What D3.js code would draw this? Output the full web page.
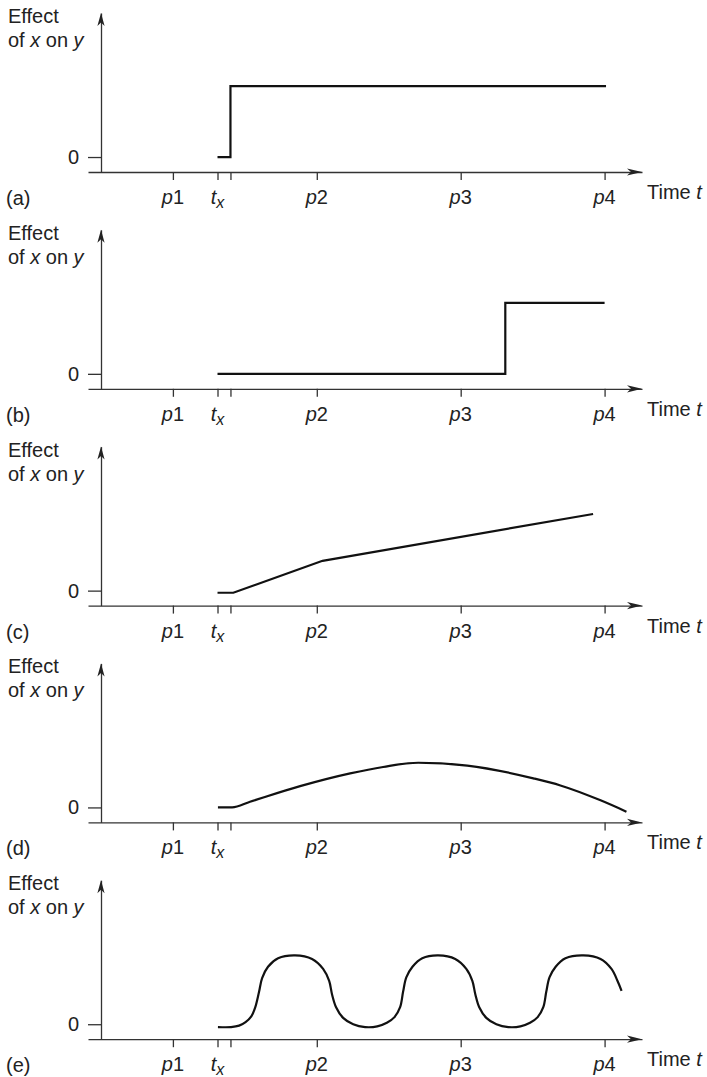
<!DOCTYPE html>
<html>
<head>
<meta charset="utf-8">
<script src="https://cdn.jsdelivr.net/npm/d3@7"></script>
<style>
  body { margin: 0; background: #fff; }
  text { font-family: "Liberation Sans", Arial, sans-serif; fill: #222; }
</style>
</head>
<body>
<div id="chart"></div>
<script>
// Data
const panelLabels = ['(a)', '(b)', '(c)', '(d)', '(e)']
const xTickValues = [1, 1.31, 1.40, 2, 3, 4]
const xTickLabels = [['p', '1'], ['t', 'x'], null, ['p', '2'], ['p', '3'], ['p', '4']]
const yTickValues = [0]
const yTickLabels = ['0']

// [time, effect] for each panel
const seriesA = [[1.31, 0], [1.40, 0], [1.40, 1], [4.01, 1]]
const seriesB = [[1.31, 0], [3.31, 0], [3.31, 1], [4.00, 1]]
const seriesC = [[1.31, -0.03], [1.42, -0.03], [2.04, 0.42], [3.92, 1.08]]
const seriesD = [
    [1.313, 0], [1.411, 0], [1.536, 0.08], [1.884, 0.30], [2.232, 0.48], [2.461, 0.57],
    [2.705, 0.63], [3.046, 0.59], [3.505, 0.41], [3.693, 0.31], [3.972, 0.10], [4.152, -0.06]
]
const seriesE = [
    [1.313, -0.04], [1.404, -0.04], [1.460, -0.02], [1.505, 0.03], [1.545, 0.11], [1.571, 0.23],
    [1.598, 0.45], [1.620, 0.65], [1.661, 0.81], [1.731, 0.93], [1.849, 0.97], [1.967, 0.92],
    [2.044, 0.78], [2.086, 0.61], [2.106, 0.42], [2.134, 0.24], [2.183, 0.09], [2.253, 0.00],
    [2.336, -0.04], [2.420, -0.03], [2.487, 0.02], [2.540, 0.10], [2.579, 0.24], [2.600, 0.46],
    [2.622, 0.66], [2.665, 0.81], [2.733, 0.93], [2.844, 0.97], [2.962, 0.92], [3.039, 0.78],
    [3.081, 0.61], [3.102, 0.42], [3.129, 0.24], [3.178, 0.09], [3.248, 0.00], [3.331, -0.04],
    [3.415, -0.03], [3.482, 0.02], [3.535, 0.10], [3.574, 0.24], [3.595, 0.46], [3.617, 0.66],
    [3.660, 0.81], [3.728, 0.93], [3.853, 0.97], [3.972, 0.92], [4.048, 0.78], [4.090, 0.61],
    [4.118, 0.47]
]
const panels = [
    { series: seriesA, curve: d3.curveLinear },
    { series: seriesB, curve: d3.curveLinear },
    { series: seriesC, curve: d3.curveLinear },
    { series: seriesD, curve: d3.curveMonotoneX },
    { series: seriesE, curve: d3.curveCatmullRom.alpha(0.5) }
]

// Dimensions
const WIDTH = 707
const HEIGHT = 1077
const AXIS_LEFT = 88
const AXIS_RIGHT = 642
const Y_AXIS_X = 101
const FIRST_BASE = 172
const PANEL_STEP = 216.8
const PANEL_HEIGHT = 159
const FONT = 20

const svg = d3.select('#chart')
    .append('svg')
    .attr('width', WIDTH)
    .attr('height', HEIGHT)
    .style('background', '#fff')

// Create Scales (same time scale for every panel)
const xScale = d3.scaleLinear()
    .domain([0.41, 4.26])
    .range([AXIS_LEFT, AXIS_RIGHT])

panels.forEach((p, i) => {
    const base = FIRST_BASE + PANEL_STEP * i

    const yScale = d3.scaleLinear()
        .domain([-0.211, 2.03])
        .range([base, base - PANEL_HEIGHT])

    const g = svg.append('g')

    // x axis
    const xAxis = d3.axisBottom(xScale)
        .tickValues(xTickValues)
        .tickSize(8)
        .tickSizeOuter(0)
        .tickFormat('')

    const gx = g.append('g')
        .attr('transform', `translate(0, ${base})`)
        .call(xAxis)
    gx.select('.domain').attr('stroke', '#333').attr('stroke-width', 1.3)
    gx.selectAll('.tick line').attr('stroke', '#333').attr('stroke-width', 1.3)
    gx.selectAll('.tick text').remove()

    // tick labels with italic letters
    xTickValues.forEach((v, k) => {
        const lab = xTickLabels[k]
        if (!lab) return
        const t = g.append('text')
            .attr('x', xScale(v))
            .attr('y', base + 32)
            .attr('text-anchor', 'middle')
            .style('font-size', `${FONT}px`)
        if (lab[0] === 't') {
            t.append('tspan').style('font-style', 'italic').text('t')
            t.append('tspan').style('font-style', 'italic')
                .style('font-size', '16px').attr('dy', 4).text('x')
        } else {
            t.append('tspan').style('font-style', 'italic').text(lab[0])
            t.append('tspan').text(lab[1])
        }
    })

    // x arrow
    g.append('path')
        .attr('d', `M${AXIS_RIGHT},${base} l-15,-3.6 l4,3.6 l-4,3.6 z`)
        .attr('fill', '#222')

    // y axis
    const yAxis = d3.axisLeft(yScale)
        .tickValues(yTickValues)
        .tickSize(Y_AXIS_X - AXIS_LEFT)
        .tickSizeOuter(0)
        .tickPadding(9)
        .tickFormat((d, k) => yTickLabels[k])

    const gy = g.append('g')
        .attr('transform', `translate(${Y_AXIS_X}, 0)`)
        .call(yAxis)
    gy.select('.domain').attr('stroke', '#333').attr('stroke-width', 1.3)
    gy.selectAll('.tick line').attr('stroke', '#333').attr('stroke-width', 1.3)
    gy.selectAll('.tick text')
        .style('font-size', `${FONT}px`)
        .style('font-family', '"Liberation Sans", Arial, sans-serif')
        .attr('fill', '#222')

    // y arrow
    g.append('path')
        .attr('d', `M${Y_AXIS_X},${base - PANEL_HEIGHT} l-3.6,13 l3.6,-3.5 l3.6,3.5 z`)
        .attr('fill', '#222')

    // axis titles
    g.append('text')
        .attr('x', 8)
        .attr('y', base - 149)
        .style('font-size', `${FONT}px`)
        .text('Effect')

    const yt = g.append('text')
        .attr('x', 8)
        .attr('y', base - 125)
        .style('font-size', `${FONT}px`)
    yt.append('tspan').text('of ')
    yt.append('tspan').style('font-style', 'italic').text('x')
    yt.append('tspan').text(' on ')
    yt.append('tspan').style('font-style', 'italic').text('y')

    const xt = g.append('text')
        .attr('x', 647)
        .attr('y', base + 27)
        .style('font-size', `${FONT}px`)
    xt.append('tspan').text('Time ')
    xt.append('tspan').style('font-style', 'italic').text('t')

    g.append('text')
        .attr('x', 6)
        .attr('y', base + 33)
        .style('font-size', `${FONT}px`)
        .text(panelLabels[i])

    // Create Line
    const line = d3.line()
        .x(d => xScale(d[0]))
        .y(d => yScale(d[1]))
        .curve(p.curve)

    g.append('path')
        .datum(p.series)
        .attr('d', line)
        .attr('fill', 'none')
        .attr('stroke', '#111')
        .attr('stroke-width', 2.2)
        .attr('stroke-linejoin', 'miter')
})
</script>
</body>
</html>
